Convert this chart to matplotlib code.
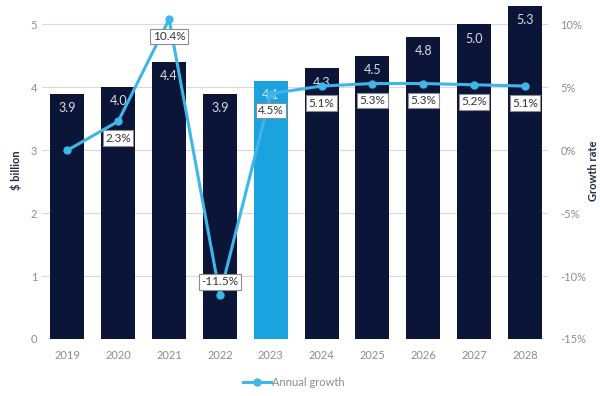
import matplotlib.pyplot as plt
import numpy as np

plt.rcParams['font.family'] = ['Lato', 'DejaVu Sans']

years = ['2019', '2020', '2021', '2022', '2023', '2024', '2025', '2026', '2027', '2028']
market = [3.9, 4.0, 4.4, 3.9, 4.1, 4.3, 4.5, 4.8, 5.0, 5.3]
growth = [0.0, 2.3, 10.4, -11.5, 4.5, 5.1, 5.3, 5.3, 5.2, 5.1]
growth_labels = ['', '2.3%', '10.4%', '-11.5%', '4.5%', '5.1%', '5.3%', '5.3%', '5.2%', '5.1%']

navy = '#0b1538'
blue = '#1ba3e0'
line_c = '#3fb6e8'
grey = '#8c8c8c'

fig = plt.figure(figsize=(6, 3.96), dpi=100)
ax = fig.add_axes([0.07, 0.144, 0.843, 0.85])
x = np.arange(len(years))
colors = [blue if y == '2023' else navy for y in years]
ax.bar(x, market, width=0.67, color=colors, zorder=2)
for xi, v in zip(x, market):
    ax.text(xi, v - 0.13, f'{v:.1f}', ha='center', va='top', color='#d8dce6', fontsize=9, zorder=3)

ax.set_ylim(0, 5.35)
ax.set_xlim(-0.5, 9.45)
ax.set_yticks(range(6))
ax.set_xticks(x)
ax.set_xticklabels(years)
ax.grid(axis='y', color='#d9d9d9', lw=0.8, zorder=0)
for s in ax.spines.values():
    s.set_visible(False)
ax.tick_params(length=0, colors=grey, labelsize=8)
ax.tick_params(axis='x', pad=8)
ax.set_ylabel('$ billion', fontsize=8, fontweight='bold', color='#1f2a44', labelpad=6)

ax2 = ax.twinx()
ax2.set_ylim(-15, 11.75)
ax2.set_yticks([-15, -10, -5, 0, 5, 10])
ax2.set_yticklabels([f'{t}%' for t in [-15, -10, -5, 0, 5, 10]])
for s in ax2.spines.values():
    s.set_visible(False)
ax2.tick_params(length=0, colors=grey, labelsize=8, pad=9)
ax2.set_ylabel('Growth rate', fontsize=8, fontweight='bold', color='#1f2a44', labelpad=1)
ln, = ax2.plot(x, growth, color=line_c, lw=2.2, marker='o', ms=5, zorder=4, label='Annual growth')
for xi, g, lab in zip(x, growth, growth_labels):
    if not lab:
        continue
    dy = 13 if g < 0 else -17
    ax2.annotate(lab, (xi, g), xytext=(0, dy), textcoords='offset pixels',
                 ha='center', va='center', fontsize=8.5, color='#333333', zorder=5,
                 bbox=dict(boxstyle='square,pad=0.2', fc='white', ec='#8c8c8c', lw=0.8))

fig.legend(handles=[ln], loc='center', bbox_to_anchor=(0.49, 0.035), frameon=False,
           fontsize=8, labelcolor=grey, handlelength=2.5, handletextpad=0.1)

fig.savefig('out.png', dpi=100)
